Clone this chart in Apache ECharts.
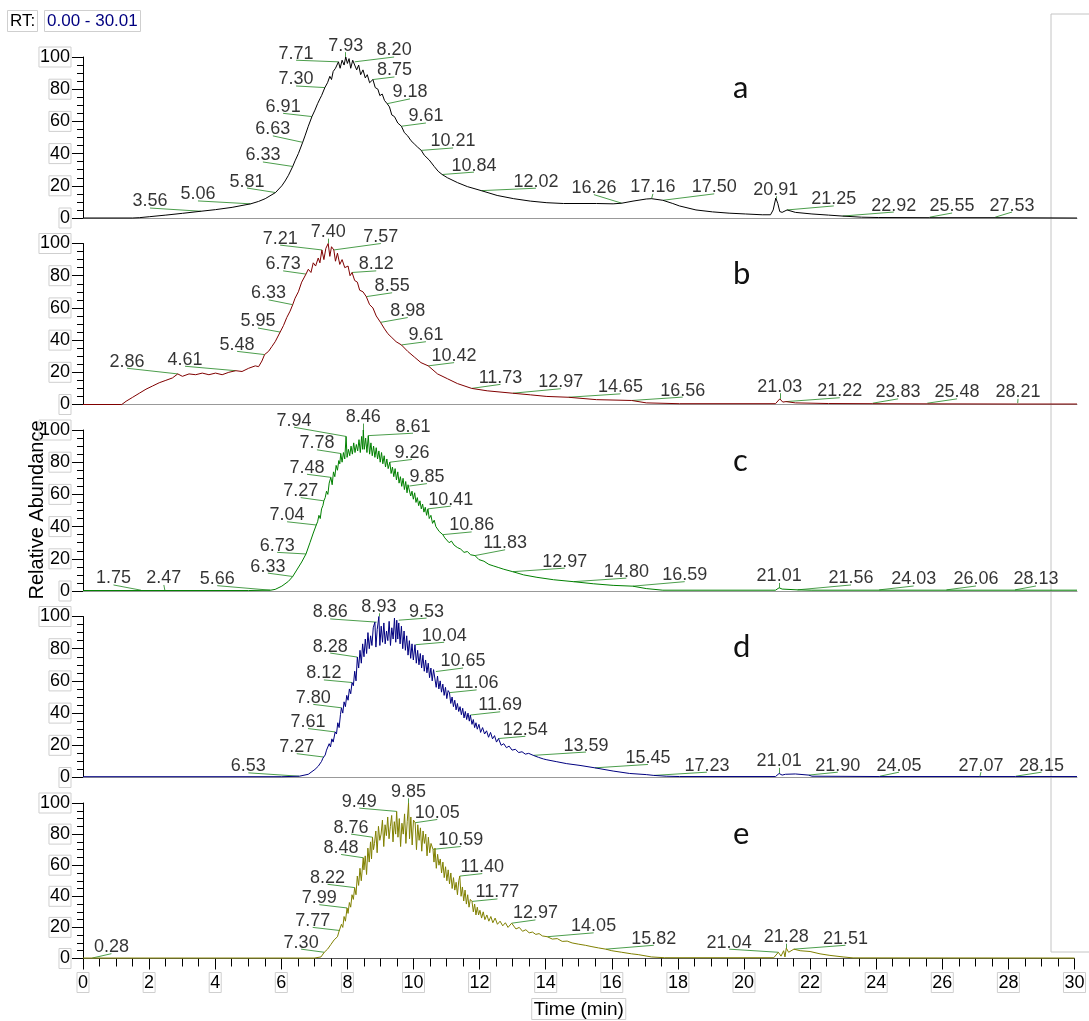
<!DOCTYPE html>
<html>
<head>
<meta charset="utf-8">
<script src="https://cdn.jsdelivr.net/npm/echarts@6/dist/echarts.min.js"></script>
<style>
  html, body { margin: 0; padding: 0; background: #fff; }
  #chart { width: 1089px; height: 1021px; }
</style>
</head>
<body>
<div id="chart"></div>
<script>
// chromatograms, [time (min), relative abundance]
const traceA = [[0,0],[1.5,0],[1.7,0.2],[2,0.8],[2.5,1.8],[3,2.9],[3.56,4.2],[4,5.2],[4.5,6.6],[5.06,8.8],[5.3,10.3],[5.5,12],[5.81,15.8],[6,20],[6.1,23],[6.2,26.5],[6.33,32],[6.4,35.5],[6.5,40],[6.63,47],[6.7,51],[6.8,57],[6.91,63],[7,67],[7.08,71],[7.15,74],[7.2,76],[7.3,81],[7.38,84],[7.45,88],[7.5,86],[7.55,91],[7.62,93],[7.71,97],[7.76,93],[7.82,98],[7.88,95],[7.93,100],[7.98,96],[8.03,99],[8.08,93],[8.14,98],[8.2,97],[8.26,92],[8.32,95],[8.38,89],[8.45,92],[8.52,87],[8.58,89],[8.65,84],[8.75,86],[8.82,81],[8.9,80],[8.96,76],[9.03,77],[9.1,73],[9.18,71],[9.25,69],[9.32,64],[9.4,63],[9.5,59],[9.61,57],[9.7,53],[9.8,51],[9.9,48],[10,46],[10.1,44],[10.21,42],[10.3,39],[10.45,36],[10.6,32],[10.72,29],[10.84,27],[11,25],[11.3,22],[11.6,19.5],[12.02,17],[12.5,14],[13,12],[13.5,10.5],[14,9.5],[14.5,9],[15,9],[15.5,9],[16,8.8],[16.26,9.2],[16.6,10.5],[17,11.8],[17.16,12],[17.5,11],[17.8,9],[18,7.5],[18.5,5],[19,3.8],[19.5,3],[20,2.5],[20.5,2],[20.75,2],[20.83,5],[20.91,12.4],[20.97,9],[21.03,4],[21.1,3.5],[21.25,5],[21.5,3.5],[22,2.5],[22.5,1.8],[22.92,1.2],[23.5,0.5],[24,0.3],[25.55,0.2],[27.53,0.2],[30,0]];
const traceB = [[0,0],[1.17,0],[1.3,2],[1.5,4.5],[1.7,7],[1.9,9.5],[2.1,11.5],[2.3,13.5],[2.5,15],[2.7,16.5],[2.86,19],[3,17.5],[3.2,19],[3.4,18.5],[3.6,19.5],[3.8,18.5],[4,19.5],[4.2,18.5],[4.4,20],[4.61,21],[4.8,20.5],[5,22.5],[5.2,24],[5.3,23.5],[5.4,27],[5.48,31],[5.6,33],[5.7,36],[5.8,39],[5.95,45],[6.05,49],[6.15,54],[6.25,58],[6.33,62],[6.4,66],[6.5,70],[6.6,76],[6.73,81],[6.8,84],[6.88,82],[6.95,88],[7.02,86],[7.1,91],[7.15,88],[7.21,96],[7.27,90],[7.33,97],[7.4,100],[7.45,92],[7.5,98],[7.57,96],[7.62,89],[7.68,94],[7.75,87],[7.82,90],[7.9,85],[8,86],[8.06,80],[8.12,82],[8.2,77],[8.28,76],[8.35,71],[8.45,70],[8.55,67],[8.65,62],[8.75,60],[8.85,55],[8.98,51],[9.1,47],[9.2,44],[9.3,42],[9.45,39],[9.61,37],[9.8,33],[10,29.5],[10.2,26],[10.42,24],[10.7,19],[11,16],[11.3,13],[11.73,10],[12.2,8.5],[12.97,7],[13.5,6],[14,5],[14.65,4.5],[15.5,3],[16.56,2.5],[17,1],[18,0.5],[20.9,0.5],[21.03,3.5],[21.12,1.5],[21.22,1.8],[21.5,1],[22.5,0.6],[23.83,0.5],[25.48,0.4],[28.21,0.3],[30,0.3]];
const traceC = [[0,0.3],[5,0.3],[5.66,0.5],[5.8,1],[6,3],[6.2,6],[6.33,9],[6.45,13],[6.6,18],[6.73,23],[6.85,30],[6.95,36],[7.04,41],[7.08,43],[7.12,47],[7.16,45],[7.2,51],[7.24,53],[7.27,56],[7.31,58],[7.35,62],[7.39,60],[7.43,67],[7.48,70.6],[7.52,66],[7.56,74],[7.6,71],[7.64,78],[7.68,75],[7.72,81],[7.75,79],[7.78,85.4],[7.82,80],[7.86,86],[7.9,82],[7.94,96],[7.97,83],[8.01,88],[8.05,84],[8.09,90],[8.13,85],[8.17,92],[8.21,86],[8.25,91],[8.29,87],[8.33,94],[8.37,86],[8.41,96],[8.44,88],[8.46,100],[8.49,88],[8.53,95],[8.57,86],[8.61,96.5],[8.65,85],[8.69,92],[8.73,84],[8.77,90],[8.81,83],[8.85,89],[8.89,82],[8.93,87],[8.97,80],[9.01,86],[9.05,79],[9.09,84],[9.13,77],[9.17,82],[9.21,76],[9.26,80],[9.3,73],[9.34,77],[9.38,71],[9.42,76],[9.46,69],[9.5,74],[9.54,67],[9.58,71],[9.62,65],[9.66,70],[9.7,63],[9.74,68],[9.78,61],[9.81,66],[9.85,65.2],[9.89,59],[9.93,62],[9.97,57],[10.01,61],[10.05,55],[10.09,58],[10.13,53],[10.17,56],[10.21,51],[10.25,54],[10.29,49],[10.33,52],[10.37,47],[10.41,51],[10.45,45],[10.5,47],[10.55,42],[10.6,44],[10.65,40],[10.7,41],[10.75,37],[10.8,38],[10.86,35],[10.92,33],[10.98,33],[11.05,30],[11.12,31],[11.2,28.5],[11.3,27],[11.4,26],[11.5,24],[11.6,24.5],[11.7,22.5],[11.83,22],[11.95,19.5],[12.1,18.5],[12.25,16.5],[12.4,15.5],[12.55,14.5],[12.7,13.5],[12.97,12],[13.3,10],[13.7,8.5],[14.2,7],[14.8,5.8],[15.4,4.5],[16,3.5],[16.59,3],[17,1.5],[17.5,0.5],[20.9,0.5],[21.01,2],[21.1,1.2],[21.56,0.7],[22,0.5],[30,0.5]];
const traceD = [[0,0.5],[6,0.5],[6.53,0.8],[6.8,2],[7,5],[7.1,7],[7.2,10],[7.24,12],[7.27,12.7],[7.31,14],[7.35,17],[7.39,16],[7.43,21],[7.47,19],[7.51,24],[7.55,22],[7.61,28.3],[7.65,27],[7.69,34],[7.73,31],[7.77,39],[7.8,43.3],[7.84,40],[7.88,47],[7.92,44],[7.96,51],[8,48],[8.04,55],[8.08,52],[8.12,59],[8.16,57],[8.2,66],[8.24,60],[8.28,74.8],[8.32,68],[8.36,79],[8.4,71],[8.44,83],[8.48,75],[8.52,86],[8.56,77],[8.6,90],[8.64,80],[8.68,88],[8.72,82],[8.76,93],[8.81,96.5],[8.84,81],[8.88,92],[8.93,100],[8.96,82],[9,94],[9.04,84],[9.08,96],[9.12,83],[9.16,91],[9.2,85],[9.24,97],[9.28,82],[9.32,93],[9.36,86],[9.4,99],[9.44,84],[9.47,97.7],[9.5,86],[9.53,96],[9.57,83],[9.61,94],[9.65,80],[9.69,91],[9.73,79],[9.77,88],[9.81,76],[9.85,85],[9.89,74],[9.93,83],[9.97,73],[10.02,82.5],[10.06,71],[10.1,79],[10.14,70],[10.18,77],[10.22,68],[10.26,76],[10.3,66],[10.34,73],[10.38,65],[10.42,71],[10.46,62],[10.5,68],[10.54,60],[10.58,67],[10.62,65.8],[10.66,56],[10.7,63],[10.74,55],[10.78,60],[10.82,53],[10.86,58],[10.9,51],[10.94,56],[10.98,49],[11.02,54],[11.06,52.7],[11.1,46],[11.14,50],[11.18,44],[11.22,48],[11.26,42],[11.3,46],[11.34,41],[11.38,44],[11.42,39],[11.46,43],[11.5,37],[11.54,41],[11.58,36],[11.62,40],[11.66,35],[11.69,38.8],[11.74,33],[11.78,36],[11.82,31],[11.86,34],[11.9,30],[11.95,33],[12,28],[12.06,31],[12.12,27],[12.18,29],[12.24,25],[12.3,28],[12.36,24],[12.42,26],[12.48,22],[12.54,24.2],[12.62,20],[12.7,21],[12.78,18.5],[12.86,19.5],[12.95,17],[13.05,17.5],[13.15,15.5],[13.25,16],[13.35,14.5],[13.45,15],[13.59,13.75],[13.75,12.5],[13.9,11.5],[14,11],[14.3,9.8],[14.6,8.6],[15,7.5],[15.45,6],[16,4],[16.5,2.5],[17,1.8],[17.23,1.3],[17.6,0.8],[18,0.6],[20.9,0.6],[21.01,2.5],[21.1,1.5],[21.2,2],[21.5,2.2],[21.9,1.5],[22,0.8],[24.05,0.6],[27.07,0.6],[28.15,0.6],[30,0.6]];
const traceE = [[0,0.3],[7,0.3],[7.2,1],[7.3,4],[7.4,6],[7.5,9],[7.6,12],[7.66,13],[7.7,14],[7.74,17],[7.77,18],[7.82,22],[7.86,20],[7.9,27],[7.94,24],[7.99,32.5],[8.02,29],[8.06,36],[8.1,33],[8.14,41],[8.18,38],[8.22,45.6],[8.26,41],[8.3,53],[8.34,47],[8.38,58],[8.42,50],[8.48,64.8],[8.5,57],[8.54,66],[8.58,54],[8.62,71],[8.66,62],[8.7,75],[8.73,64],[8.76,78],[8.79,70],[8.82,74],[8.86,82],[8.9,68],[8.94,85],[8.98,76],[9.02,80],[9.06,89],[9.1,72],[9.14,86],[9.18,79],[9.22,91],[9.26,77],[9.3,85],[9.34,92],[9.38,75],[9.42,88],[9.46,80],[9.49,94.6],[9.53,78],[9.57,90],[9.61,72],[9.65,87],[9.69,80],[9.73,93],[9.77,74],[9.81,88],[9.85,100],[9.88,77],[9.92,91],[9.96,73],[10,89],[10.05,87.3],[10.09,70],[10.13,86],[10.17,76],[10.21,84],[10.25,69],[10.29,82],[10.33,74],[10.37,80],[10.41,66],[10.45,78],[10.49,68],[10.53,74],[10.59,70.2],[10.62,62],[10.65,71],[10.69,58],[10.73,67],[10.77,60],[10.81,64],[10.85,55],[10.89,62],[10.93,52],[10.97,59],[11.01,50],[11.05,57],[11.09,48],[11.13,55],[11.17,45],[11.21,52],[11.25,44],[11.29,49],[11.33,41],[11.37,50],[11.4,53],[11.44,40],[11.48,46],[11.52,37],[11.56,44],[11.6,35],[11.64,41],[11.68,33],[11.72,38],[11.77,36.7],[11.81,30],[11.85,35],[11.89,28],[11.93,33],[11.97,28],[12.01,31],[12.06,26],[12.11,30],[12.16,25],[12.22,28],[12.28,24],[12.34,27],[12.4,23],[12.47,26],[12.54,22],[12.62,24],[12.7,21],[12.78,23],[12.86,20],[12.97,22.7],[13.1,19],[13.2,20],[13.3,17.5],[13.4,18.5],[13.5,16.5],[13.6,17],[13.7,15.5],[13.8,16],[13.9,14.5],[14.05,14],[14.2,12.5],[14.35,12.8],[14.5,11],[14.65,11.2],[14.8,10],[15,9.2],[15.2,8.5],[15.4,7.6],[15.6,6.8],[15.82,6],[16,5],[16.3,4],[16.6,3],[16.8,2.5],[17.2,1],[17.6,0.5],[20.9,0.5],[21.04,4],[21.12,1.5],[21.2,5],[21.24,1],[21.28,6.7],[21.35,4],[21.51,6],[21.7,5],[22,4.5],[22.3,3],[22.6,2],[23,1],[23.3,0.4],[30,0.3]];

// labelled peaks: [retention time, abundance at that time]
const peaksA = [[3.56,4.2],[5.06,8.8],[5.81,15.8],[6.33,32],[6.63,47],[6.91,63],[7.30,81],[7.71,97],[7.93,100],[8.20,97],[8.75,86],[9.18,71],[9.61,57],[10.21,42],[10.84,27],[12.02,17],[16.26,9.2],[17.16,12],[17.50,11],[20.91,12.4],[21.25,5],[22.92,1.2],[25.55,0.5],[27.53,0.5]];
const peaksB = [[2.86,19],[4.61,21],[5.48,31],[5.95,45],[6.33,62],[6.73,81],[7.21,96],[7.40,100],[7.57,96],[8.12,82],[8.55,67],[8.98,51],[9.61,37],[10.42,24],[11.73,10],[12.97,7],[14.65,4.5],[16.56,2.5],[21.03,3.5],[21.22,1.8],[23.83,0.8],[25.48,0.8],[28.21,0.8]];
const peaksC = [[1.75,0.5],[2.47,0.5],[5.66,0.5],[6.33,9],[6.73,23],[7.04,41],[7.27,56],[7.48,70.6],[7.78,85.4],[7.94,96],[8.46,100],[8.61,96.5],[9.26,80],[9.85,65.2],[10.41,51],[10.86,35],[11.83,22],[12.97,12],[14.80,5.8],[16.59,3],[21.01,2],[21.56,0.7],[24.03,0.7],[26.06,0.7],[28.13,0.7]];
const peaksD = [[6.53,0.8],[7.27,12.7],[7.61,28.3],[7.80,43.3],[8.12,59],[8.28,74.8],[8.86,96.5],[8.93,100],[9.53,97.7],[10.04,82.5],[10.65,65.8],[11.06,52.7],[11.69,38.8],[12.54,24.2],[13.59,13.75],[15.45,6],[17.23,1.3],[21.01,2.5],[21.90,1.5],[24.05,0.8],[27.07,0.6],[28.15,0.8]];
const peaksE = [[0.28,0.3],[7.30,4],[7.77,18],[7.99,32.5],[8.22,45.6],[8.48,64.8],[8.76,78],[9.49,94.6],[9.85,100],[10.05,87.3],[10.59,70.2],[11.40,53],[11.77,36.7],[12.97,22.7],[14.05,14],[15.82,6],[21.04,4],[21.28,6.7],[21.51,6]];

// where each peak's text sits (time, abundance), the leader runs to the peak
const tagsA = [[2.02,6.2],[3.47,10.6],[4.95,18.6],[5.43,34.8],[5.73,51],[6.04,65],[6.43,82],[6.43,98],[7.93,103],[9.39,100],[9.40,87.6],[9.87,74],[10.35,59],[11.17,43.5],[11.8,28.5],[13.67,18.5],[15.42,14.5],[17.2,15],[19.05,15],[20.91,13.5],[22.66,7.5],[24.47,3.7],[26.23,3.1],[28.04,3.7]];
const tagsB = [[1.33,22.5],[3.08,23.75],[4.65,33],[5.28,47.5],[5.6,65],[6.04,83],[5.95,99],[7.40,103],[8.99,100],[8.85,83],[9.33,69.4],[9.8,54],[10.35,39],[11.2,26],[12.6,12.5],[14.42,9.8],[16.22,6.6],[18.1,4.6],[21.03,7],[22.84,4.2],[24.6,3.5],[26.38,3.5],[28.22,3.5]];
const tagsC = [[0.92,3.75],[2.44,3.75],[4.05,3.3],[5.58,11.1],[5.86,24],[6.16,43],[6.57,58],[6.76,72.5],[7.06,87.7],[6.37,101.7],[8.46,104],[9.96,98],[9.93,81.7],[10.38,66.7],[11.1,52.7],[11.73,36.7],[12.74,25.6],[14.54,14.2],[16.4,8],[18.16,5.8],[21.01,5],[23.18,3.75],[25.07,3.1],[26.95,3.1],[28.76,3.1]];
const tagsD = [[4.99,2.9],[6.45,14.8],[6.79,30.4],[6.95,45.4],[7.27,60.6],[7.46,77.3],[7.46,98.5],[8.93,102],[10.37,99],[10.9,84],[11.47,68],[11.88,54.4],[12.59,40.8],[13.35,25.6],[15.18,15.8],[17.05,8.1],[18.83,3.3],[21.01,6],[22.78,3.3],[24.63,3.3],[27.1,3.3],[28.93,3.3]];
const tagsE = [[0.86,3.1],[6.6,6],[6.95,20],[7.15,34.6],[7.40,47.7],[7.81,66.9],[8.11,80],[8.36,96.7],[9.85,103],[10.72,89.4],[11.43,72],[12.08,54.6],[12.54,38.3],[13.69,24.8],[15.45,16.5],[17.27,8.5],[19.55,6],[21.28,9.5],[23.07,8.5]];

const panelNames = ['a', 'b', 'c', 'd', 'e'];
const rtRange = '0.00 - 30.01';
const timeMin = 0, timeMax = 30, timeStep = 2;
const abundMax = 100, abundStep = 20;

const traces = [traceA, traceB, traceC, traceD, traceE];
const peaks = [peaksA, peaksB, peaksC, peaksD, peaksE];
const tags = [tagsA, tagsB, tagsC, tagsD, tagsE];
const colors = ['#000000', '#800000', '#008000', '#000080', '#808000'];
const leaderColor = '#4c9e4c';
const font = '"Liberation Sans", Arial, sans-serif';
const tops = [57, 243.5, 430, 616.5, 803];
const plotH = 161;

const chart = echarts.init(document.getElementById('chart'), null, { renderer: 'canvas' });

const grid = tops.map(t => ({ left: 83, right: 12, top: t, height: plotH }));

const xAxis = tops.map((t, i) => {
  const last = i === tops.length - 1;
  return {
    type: 'value',
    gridIndex: i,
    min: timeMin,
    max: timeMax,
    interval: timeStep,
    axisLine: { show: true, lineStyle: { color: last ? '#555' : '#999', width: 1 } },
    axisTick: { show: last, length: 11, lineStyle: { color: '#000' } },
    minorTick: { show: last, splitNumber: 4, length: 8, lineStyle: { color: '#000' } },
    axisLabel: {
      show: last,
      margin: 14,
      fontSize: 18,
      fontFamily: font,
      color: '#000',
      borderColor: '#cfcfcf',
      borderWidth: 1,
      padding: [2, 1, 0, 1]
    },
    splitLine: { show: false },
    name: last ? 'Time (min)' : '',
    nameLocation: 'middle',
    nameGap: 40,
    nameTextStyle: {
      fontSize: 19,
      fontFamily: font,
      color: '#000',
      borderColor: '#cfcfcf',
      borderWidth: 1,
      padding: [2, 2, 0, 2]
    }
  };
});

const yAxis = tops.map((t, i) => ({
  type: 'value',
  gridIndex: i,
  min: 0,
  max: abundMax,
  interval: abundStep,
  axisLine: { show: true, lineStyle: { color: '#000', width: 1 } },
  axisTick: { show: true, length: 11, lineStyle: { color: '#000' } },
  minorTick: { show: true, splitNumber: 4, length: 6, lineStyle: { color: '#000' } },
  axisLabel: {
    margin: 12,
    fontSize: 18,
    fontFamily: font,
    color: '#000',
    borderColor: '#cfcfcf',
    borderWidth: 1,
    padding: [2, 1, 0, 1]
  },
  splitLine: { show: false }
}));

const series = [];
traces.forEach((trace, i) => {
  series.push({
    type: 'line',
    xAxisIndex: i,
    yAxisIndex: i,
    data: trace,
    showSymbol: false,
    clip: false,
    silent: true,
    lineStyle: { color: colors[i], width: 1 },
    z: 3
  });
  series.push({
    type: 'lines',
    coordinateSystem: 'cartesian2d',
    xAxisIndex: i,
    yAxisIndex: i,
    silent: true,
    clip: false,
    lineStyle: { color: leaderColor, width: 1, opacity: 1 },
    data: peaks[i].map((p, k) => ({ coords: [p, tags[i][k]] })),
    z: 2
  });
  series.push({
    type: 'scatter',
    xAxisIndex: i,
    yAxisIndex: i,
    silent: true,
    clip: false,
    symbolSize: 1,
    itemStyle: { color: 'rgba(0,0,0,0)' },
    data: peaks[i].map((p, k) => ({ value: tags[i][k], name: p[0].toFixed(2) })),
    label: {
      show: true,
      position: 'top',
      distance: -3,
      formatter: '{b}',
      fontSize: 18,
      fontFamily: font,
      color: '#000'
    },
    labelLayout: { hideOverlap: false },
    z: 4
  });
});

const letters = panelNames.map((n, i) => ({
  type: 'text',
  left: 733,
  top: tops[i] + 15,
  style: { text: n, fontSize: 31, fontFamily: 'Lato, "Open Sans", sans-serif', fill: '#111' }
}));

const option = {
  animation: false,
  backgroundColor: '#fff',
  title: [
    {
      text: 'RT:',
      left: 7,
      top: 10,
      padding: [3, 3, 2, 3],
      borderColor: '#cfcfcf',
      borderWidth: 1,
      textStyle: { fontSize: 17, fontWeight: 'normal', fontFamily: font, color: '#000' }
    },
    {
      text: rtRange,
      left: 44,
      top: 10,
      padding: [3, 3, 2, 3],
      borderColor: '#cfcfcf',
      borderWidth: 1,
      textStyle: { fontSize: 17, fontWeight: 'normal', fontFamily: font, color: '#000080' }
    }
  ],
  grid,
  xAxis,
  yAxis,
  series,
  graphic: [
    {
      type: 'rect',
      z: -1,
      shape: { x: 1051, y: 14, width: 60, height: 938 },
      style: { fill: 'none', stroke: '#c4c4c4', lineWidth: 1 }
    },
    {
      type: 'text',
      x: 37,
      y: 510,
      rotation: Math.PI / 2,
      style: {
        text: 'Relative Abundance',
        fontSize: 20,
        fontFamily: font,
        fill: '#000',
        align: 'center',
        verticalAlign: 'middle'
      }
    }
  ].concat(letters)
};

chart.setOption(option);
</script>
</body>
</html>
